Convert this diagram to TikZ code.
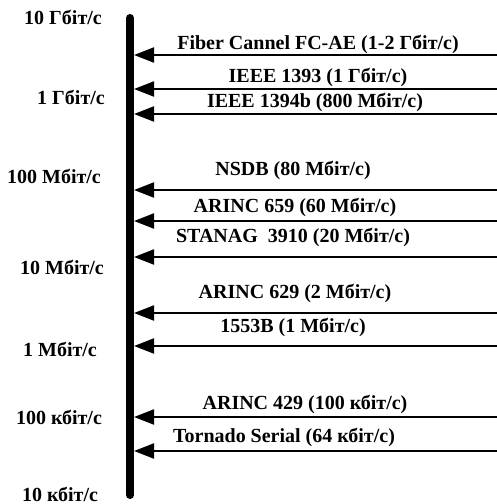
\documentclass[tikz,border=0pt]{standalone}
\usepackage{fontspec}
\setmainfont{Liberation Serif}
\usetikzlibrary{arrows.meta}
\begin{document}
\begin{tikzpicture}[x=1pt,y=-1pt,
  lbl/.style={font=\bfseries\fontsize{20}{23}\selectfont, inner sep=0pt, anchor=center},
  bus/.style={line width=8pt, line cap=round},
  conn/.style={line width=2pt, -{Triangle[length=20pt,width=15pt]}}]
\useasboundingbox (0,0) rectangle (497,504);
% vertical axis
\coordinate (top) at (130,18);
\coordinate (bot) at (130,495);
\draw[bus] (top) -- (bot);
% scale labels
\node[lbl] (s1) at (63,17) {10 Гбіт/с};
\node[lbl] (s2) at (71,97) {1 Гбіт/с};
\node[lbl] (s3) at (54,176) {100 Мбіт/с};
\node[lbl] (s4) at (62,267) {10 Мбіт/с};
\node[lbl] (s5) at (60,349) {1 Мбіт/с};
\node[lbl] (s6) at (59,417) {100 кбіт/с};
\node[lbl] (s7) at (60,494) {10 кбіт/с};
% connectors
\foreach \i/\y in {1/55,2/89,3/114,4/190,5/221,6/257,7/313,8/346,9/417,10/451}{
  \coordinate (r\i) at (497,\y);
  \coordinate (l\i) at (134,\y);
  \draw[conn] (r\i) -- (l\i);
}
% labels of buses
\node[lbl] (t1) at (318,44) {Fiber Cannel FC-AE (1-2 Гбіт/с)};
\node[lbl] (t2) at (318,77) {IEEE 1393 (1 Гбіт/с)};
\node[lbl] (t3) at (315,102) {IEEE 1394b (800 Мбіт/с)};
\node[lbl] (t4) at (293,170) {NSDB (80 Мбіт/с)};
\node[lbl] (t5) at (295,207) {ARINC 659 (60 Мбіт/с)};
\node[lbl] (t6) at (293,237) {STANAG\ \ 3910 (20 Мбіт/с)};
\node[lbl] (t7) at (295,293) {ARINC 629 (2 Мбіт/с)};
\node[lbl] (t8) at (293,327) {1553B (1 Мбіт/с)};
\node[lbl] (t9) at (305,404) {ARINC 429 (100 кбіт/с)};
\node[lbl] (t10) at (284,437) {Tornado Serial (64 кбіт/с)};
\end{tikzpicture}
\end{document}
